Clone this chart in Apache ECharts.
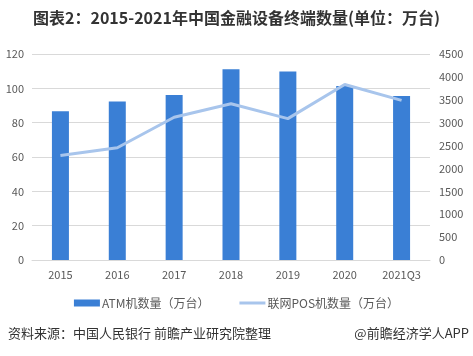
<!DOCTYPE html>
<html><head><meta charset="utf-8">
<script src="https://cdn.jsdelivr.net/npm/echarts@6/dist/echarts.min.js"></script>
<style>html,body{margin:0;padding:0;background:#fff}#c{width:473px;height:356px}</style>
</head><body><div id="c"></div>
<script>
const categories = ['2015','2016','2017','2018','2019','2020','2021Q3'];
const atmValues = [86.7, 92.4, 96.1, 111.1, 109.8, 101.4, 95.6];
const posValues = [2282, 2453, 3118, 3414, 3089, 3833, 3488];
const leftTicks = [0, 20, 40, 60, 80, 100, 120];
const rightTicks = [0, 500, 1000, 1500, 2000, 2500, 3000, 3500, 4000, 4500];
const seriesNames = ['ATM机数量（万台）', '联网POS机数量（万台）'];
const titleText = '图表2：2015-2021年中国金融设备终端数量(单位：万台)';
const sourceText = '资料来源：中国人民银行 前瞻产业研究院整理';
const brandText = '@前瞻经济学人APP';

const font = '"Noto Sans CJK SC", "Noto Sans", sans-serif';
const chart = echarts.init(document.getElementById('c'), null, {renderer: 'canvas'});
chart.setOption({
  animation: false,
  backgroundColor: '#fff',
  textStyle: {fontFamily: font},
  title: {
    text: titleText, left: 'center', top: 10, padding: 0,
    textStyle: {fontSize: 16, fontWeight: 'bold', color: '#333', fontFamily: font}
  },
  grid: {left: 32, right: 43, top: 54, bottom: 96},
  legend: {
    bottom: 42, left: 'center', itemGap: 30, itemWidth: 26, itemHeight: 7,
    symbolKeepAspect: true,
    textStyle: {fontSize: 12, color: '#595959', fontFamily: font, padding: [0,0,0,-3]},
    data: [
      {name: seriesNames[0], icon: 'rect'},
      {name: seriesNames[1], icon: 'path://M0,0H26V3H0Z'}
    ]
  },
  xAxis: {
    type: 'category', data: categories,
    axisLine: {show: true, lineStyle: {color: '#d9d9d9'}},
    axisTick: {show: false},
    axisLabel: {color: '#595959', fontSize: 11, margin: 9, fontFamily: font, interval: 0}
  },
  yAxis: [{
    type: 'value', min: leftTicks[0], max: leftTicks[leftTicks.length-1], interval: 20,
    axisLine: {show: false}, axisTick: {show: false},
    axisLabel: {color: '#595959', fontSize: 11, margin: 8, fontFamily: font},
    splitLine: {lineStyle: {color: '#d9d9d9'}}
  }, {
    type: 'value', min: rightTicks[0], max: rightTicks[rightTicks.length-1], interval: 500,
    axisLine: {show: false}, axisTick: {show: false},
    axisLabel: {color: '#595959', fontSize: 11, margin: 9, fontFamily: font,
      formatter: function (v) { return String(v); }},
    splitLine: {show: false}
  }],
  series: [{
    name: seriesNames[0], type: 'bar', data: atmValues, yAxisIndex: 0,
    barWidth: 17, itemStyle: {color: '#3a7fd5'}
  }, {
    name: seriesNames[1], type: 'line', data: posValues, yAxisIndex: 1,
    symbol: 'none', smooth: false,
    lineStyle: {color: '#a8c5ec', width: 3}, itemStyle: {color: '#a8c5ec'}
  }],
  graphic: [{
    type: 'text', left: 8, top: 327,
    style: {text: sourceText, fontSize: 13, fill: '#333', fontFamily: font}
  }, {
    type: 'text', right: 4, top: 327,
    style: {text: brandText, fontSize: 13, fill: '#333', fontFamily: font}
  }]
});
</script></body></html>
